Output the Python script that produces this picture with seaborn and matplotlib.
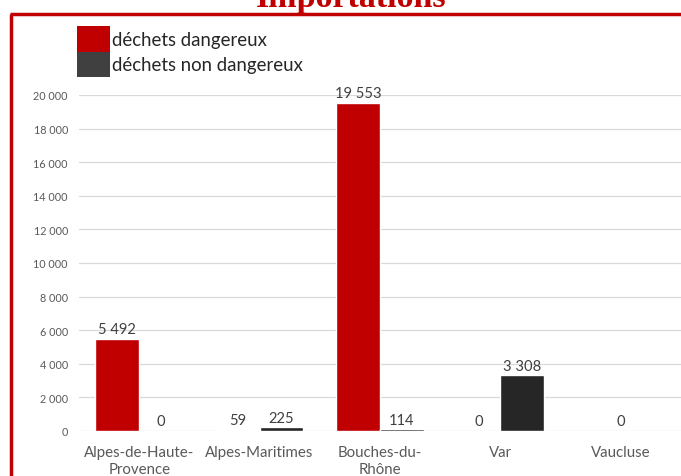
import matplotlib
matplotlib.use("Agg")
import matplotlib.pyplot as plt
import seaborn as sns
import pandas as pd
import numpy as np
from matplotlib.lines import Line2D
from matplotlib.patches import Patch

categories = ["Alpes-de-Haute-\nProvence", "Alpes-Maritimes", "Bouches-du-\nRhône", "Var", "Vaucluse"]
dangereux = [5492, 59, 19553, 0, 0]
non_dangereux = [0, 225, 114, 3308, np.nan]
series_names = ["déchets dangereux", "déchets non dangereux"]
colors = ["#C00000", "#262626"]
yticks = list(range(0, 20001, 2000))
title = "Importations"

def fmt(v):
    return f"{int(v):,}".replace(",", " ")

df = pd.DataFrame({
    "cat": categories * 2,
    "val": dangereux + non_dangereux,
    "type": [series_names[0]] * len(categories) + [series_names[1]] * len(categories),
})

sns.set_theme(style="white")
plt.rcParams["font.family"] = ["Lato", "DejaVu Sans"]

fig = plt.figure(figsize=(6.81, 4.77), dpi=100)
ax = fig.add_axes([79 / 681, 1 - 432 / 477, 1 - 79 / 681, (432 - 96) / 477])

sns.barplot(data=df, x="cat", y="val", hue="type", palette=colors,
            width=0.727, gap=0, saturation=1, legend=False, ax=ax,
            order=categories, hue_order=series_names)

ax.set_ylim(0, 20000)
ax.set_yticks(yticks)
ax.set_yticklabels([fmt(t) for t in yticks], fontsize=7.8, color="#595959")
ax.tick_params(axis="y", length=0, pad=8)
ax.tick_params(axis="x", length=0, pad=10, labelsize=10.8, labelcolor="#595959")
for lab in ax.get_xticklabels():
    lab.set_linespacing(1.3)
ax.set_xlabel("")
ax.set_ylabel("")
ax.grid(axis="y", color="#d9d9d9", linewidth=0.9)
ax.set_axisbelow(True)
for s in ax.spines.values():
    s.set_visible(False)

for si, vals in enumerate([dangereux, non_dangereux]):
    cont = ax.containers[si]
    for i, (bar, v) in enumerate(zip(cont, vals)):
        other = [dangereux, non_dangereux][1 - si][i]
        if np.isnan(v):
            continue
        if np.isnan(other):
            x = i
        else:
            x = bar.get_x() + bar.get_width() / 2
        ax.text(x, v + 150, fmt(v), ha="center", va="bottom", fontsize=10.6,
                color="#404040", clip_on=False)

fs = 13.45
px = fs * 100 / 72
handles = [Patch(facecolor=colors[0], linewidth=0), Patch(facecolor="#404040", linewidth=0)]
fig.legend(handles, series_names, loc="upper left",
           bbox_to_anchor=(77 / 681, 1 - 27 / 477), frameon=False,
           fontsize=fs, handlelength=33 / px, handleheight=(26 / px) * (26 / 21),
           handletextpad=2 / px, labelspacing=0, borderpad=0, borderaxespad=0,
           labelcolor="#262626")

fig.add_artist(Line2D([11 / 681, 11 / 681], [0, 1 - 15 / 477], transform=fig.transFigure,
                      color="#C00000", lw=2.5, solid_capstyle="butt"))
fig.add_artist(Line2D([10 / 681, 1], [1 - 15 / 477, 1 - 15 / 477], transform=fig.transFigure,
                      color="#C00000", lw=2.5, solid_capstyle="butt"))

fig.text(351 / 681, 1 - 7 / 477, title, ha="center", va="baseline",
         family="Liberation Serif", weight="bold", fontsize=24.5, color="#C00000")

fig.savefig("out.png", dpi=100)
